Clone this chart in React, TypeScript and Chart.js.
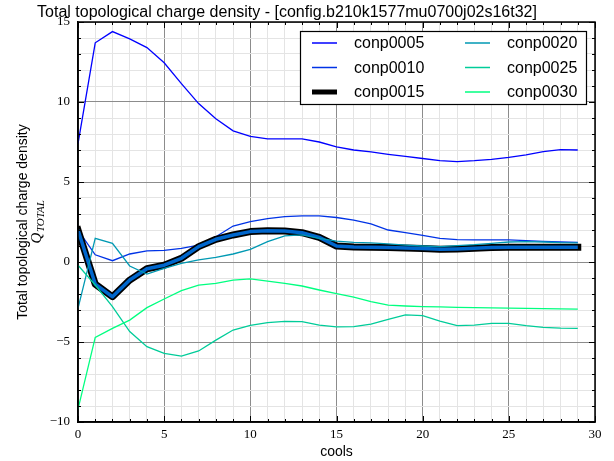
import React, { useEffect, useRef } from 'react';
import { Chart, registerables } from 'chart.js';

Chart.register(...registerables);

const cools = [0, 1, 2, 3, 4, 5, 6, 7, 8, 9, 10, 11, 12, 13, 14, 15, 16, 17, 18, 19, 20, 21, 22, 23, 24, 25, 26, 27, 28, 29];

const seriesNames = ['conp0005', 'conp0010', 'conp0015', 'conp0020', 'conp0025', 'conp0030'];

const conp0005 = [7.4, 13.7, 14.4, 13.95, 13.4, 12.45, 11.15, 9.9, 8.95, 8.2, 7.85, 7.7, 7.7, 7.7, 7.5, 7.2, 7.0, 6.88, 6.73, 6.6, 6.47, 6.34, 6.27, 6.33, 6.42, 6.54, 6.7, 6.9, 7.02, 7.0];
const conp0010 = [2.0, 0.45, 0.08, 0.5, 0.7, 0.73, 0.85, 1.06, 1.58, 2.25, 2.52, 2.71, 2.83, 2.88, 2.88, 2.78, 2.62, 2.38, 2.0, 1.83, 1.67, 1.48, 1.4, 1.38, 1.38, 1.38, 1.33, 1.29, 1.25, 1.23];
const conp0015 = [2.0, -1.38, -2.17, -1.13, -0.42, -0.2, 0.23, 0.96, 1.42, 1.69, 1.9, 1.96, 1.94, 1.83, 1.54, 1.0, 0.94, 0.92, 0.9, 0.88, 0.84, 0.8, 0.82, 0.86, 0.9, 0.92, 0.92, 0.92, 0.92, 0.92];
const conp0020 = [-2.9, 1.48, 1.17, -0.25, -0.75, -0.4, -0.08, 0.13, 0.29, 0.5, 0.79, 1.27, 1.63, 1.69, 1.48, 1.3, 1.23, 1.2, 1.13, 1.06, 1.0, 0.96, 1.02, 1.08, 1.17, 1.25, 1.27, 1.25, 1.21, 1.2];
const conp0025 = [-0.2, -1.44, -2.79, -4.35, -5.29, -5.71, -5.88, -5.56, -4.88, -4.25, -3.96, -3.79, -3.71, -3.73, -3.94, -4.06, -4.04, -3.88, -3.58, -3.31, -3.35, -3.69, -3.98, -3.94, -3.83, -3.83, -3.98, -4.08, -4.13, -4.15];
const conp0030 = [-9.2, -4.71, -4.15, -3.63, -2.85, -2.31, -1.79, -1.44, -1.33, -1.13, -1.06, -1.19, -1.33, -1.5, -1.75, -1.98, -2.2, -2.48, -2.69, -2.75, -2.79, -2.81, -2.83, -2.85, -2.87, -2.88, -2.9, -2.92, -2.93, -2.94];

const seriesColors = ['#0000ff', '#0033e6', '#0066cc', '#0099b3', '#00cc99', '#00ff80'];

const xTickValues = [0, 1, 2, 3, 4, 5, 6, 7, 8, 9, 10, 11, 12, 13, 14, 15, 16, 17, 18, 19, 20, 21, 22, 23, 24, 25, 26, 27, 28, 29, 30];
const yTickValues = [-10, -9, -8, -7, -6, -5, -4, -3, -2, -1, 0, 1, 2, 3, 4, 5, 6, 7, 8, 9, 10, 11, 12, 13, 14, 15];

const chartTitle = 'Total topological charge density - [config.b210k1577mu0700j02s16t32]';
const xTitle = 'cools';
const yTitle = 'Total topological charge density';
const yTitleSymbol = 'Q';
const yTitleSub = 'TOTAL';

const SANS = '"Liberation Sans", Arial, sans-serif';
const SERIF = '"Liberation Serif", "Times New Roman", serif';

const fmt = (v: number) => (v < 0 ? '\u2212' + Math.abs(v) : String(v));

export default function App() {
  const ref = useRef<HTMLCanvasElement>(null);

  useEffect(() => {
    const series = [conp0005, conp0010, conp0015, conp0020, conp0025, conp0030];
    const datasets: any[] = [];
    series.forEach((vals, i) => {
      const pts = cools.map((c, k) => ({ x: c, y: vals[k] }));
      if (i === 2) {
        datasets.push({
          label: seriesNames[i],
          data: pts,
          borderColor: '#000000',
          borderWidth: 7,
          pointRadius: 0,
          fill: false,
          tension: 0,
          borderJoinStyle: 'round',
          borderCapStyle: 'square',
          order: 10 - i * 1.5,
        });
        datasets.push({
          label: seriesNames[i] + '_inner',
          data: pts,
          borderColor: seriesColors[i],
          borderWidth: 3.5,
          pointRadius: 0,
          fill: false,
          tension: 0,
          borderJoinStyle: 'round',
          borderCapStyle: 'butt',
          order: 10 - i * 1.5 - 0.5,
        });
      } else {
        datasets.push({
          label: seriesNames[i],
          data: pts,
          borderColor: seriesColors[i],
          borderWidth: 1.3,
          pointRadius: 0,
          fill: false,
          tension: 0,
          order: 10 - i * 1.5,
        });
      }
    });

    const decor = {
      id: 'decor',
      afterDraw(chart: any) {
        const { ctx, chartArea: a, scales } = chart;
        const xs = scales.x;
        const ys = scales.y;
        ctx.save();
        // inward tick marks
        ctx.strokeStyle = '#000';
        ctx.lineWidth = 1;
        const seg = (x1: number, y1: number, x2: number, y2: number) => {
          ctx.beginPath();
          ctx.moveTo(x1, y1);
          ctx.lineTo(x2, y2);
          ctx.stroke();
        };
        xTickValues.forEach((v) => {
          const px = Math.round(xs.getPixelForValue(v)) + 0.5;
          const len = v % 5 === 0 ? 6 : 3;
          seg(px, a.bottom, px, a.bottom - len);
          seg(px, a.top, px, a.top + len);
        });
        yTickValues.forEach((v) => {
          const py = Math.round(ys.getPixelForValue(v)) + 0.5;
          const len = v % 5 === 0 ? 6 : 3;
          seg(a.left, py, a.left + len, py);
          seg(a.right, py, a.right - len, py);
        });
        // frame
        ctx.lineWidth = 1.5;
        ctx.strokeRect(a.left, a.top, a.right - a.left, a.bottom - a.top);

        // title
        ctx.fillStyle = '#000';
        ctx.font = '16px ' + SANS;
        ctx.textAlign = 'center';
        ctx.textBaseline = 'alphabetic';
        ctx.fillText(chartTitle, 287, 17);

        // x title
        ctx.font = '14px ' + SANS;
        ctx.fillText(xTitle, (a.left + a.right) / 2, 456);

        // y title
        const cy = (a.top + a.bottom) / 2;
        ctx.save();
        ctx.translate(0, cy);
        ctx.rotate(-Math.PI / 2);
        ctx.font = '14px ' + SANS;
        ctx.textAlign = 'center';
        ctx.textBaseline = 'middle';
        ctx.fillText(yTitle, 0, 23);
        ctx.font = 'italic 15px ' + SERIF;
        const wq = ctx.measureText(yTitleSymbol).width;
        ctx.font = 'italic 11px ' + SERIF;
        const ws = ctx.measureText(yTitleSub).width;
        const start = -(wq + ws) / 2;
        ctx.textAlign = 'left';
        ctx.textBaseline = 'alphabetic';
        ctx.font = 'italic 15px ' + SERIF;
        ctx.fillText(yTitleSymbol, start, 41);
        ctx.font = 'italic 11px ' + SERIF;
        ctx.fillText(yTitleSub, start + wq + 0.5, 44);
        ctx.restore();

        // legend
        const bx = a.right - 295;
        const by = a.top + 9;
        const bw = 286;
        const bh = 73;
        ctx.fillStyle = '#ffffff';
        ctx.fillRect(bx, by, bw, bh);
        ctx.strokeStyle = '#000';
        ctx.lineWidth = 1.2;
        ctx.strokeRect(bx + 0.5, by + 0.5, bw, bh);
        ctx.font = '16px ' + SANS;
        ctx.textAlign = 'left';
        ctx.textBaseline = 'middle';
        seriesNames.forEach((name, i) => {
          const col = Math.floor(i / 3);
          const row = i % 3;
          const lx = bx + 12 + col * 153;
          const ly = by + 12 + row * 24.5;
          ctx.strokeStyle = i === 2 ? '#000000' : seriesColors[i];
          ctx.lineWidth = i === 2 ? 5 : 1.5;
          ctx.beginPath();
          ctx.moveTo(lx, ly);
          ctx.lineTo(lx + 25, ly);
          ctx.stroke();
          ctx.fillStyle = '#000';
          ctx.fillText(name, lx + 42, ly + 1);
        });
        ctx.restore();
      },
    };

    const gridColor = (c: any) =>
      c.tick && Math.abs(c.tick.value % 5) < 1e-9 ? '#8c8c8c' : '#e4e4e4';

    const chart = new Chart(ref.current as HTMLCanvasElement, {
      type: 'line',
      data: { datasets },
      options: {
        animation: false,
        responsive: false,
        devicePixelRatio: 1,
        layout: { padding: { left: 38, top: 22, right: 19, bottom: 0 } },
        plugins: {
          legend: { display: false },
          title: { display: false },
          tooltip: { enabled: false },
        },
        scales: {
          x: {
            type: 'linear',
            min: 0,
            max: 30,
            afterBuildTicks: (s: any) => {
              s.ticks = xTickValues.map((v) => ({ value: v }));
            },
            afterFit: (s: any) => {
              s.height = 39;
            },
            ticks: {
              autoSkip: false,
              maxRotation: 0,
              padding: 5,
              color: '#000',
              font: { family: SERIF, size: 13 },
              callback: (v: any) => (Number(v) % 5 === 0 ? fmt(Number(v)) : ''),
            },
            grid: { color: gridColor, lineWidth: 1, drawTicks: false },
            border: { display: true, color: '#000', width: 1.5 },
          },
          y: {
            type: 'linear',
            min: -10,
            max: 15,
            afterBuildTicks: (s: any) => {
              s.ticks = yTickValues.map((v) => ({ value: v }));
            },
            afterFit: (s: any) => {
              s.width = 40;
            },
            ticks: {
              autoSkip: false,
              padding: 8,
              color: '#000',
              font: { family: SERIF, size: 13 },
              callback: (v: any) => (Number(v) % 5 === 0 ? fmt(Number(v)) : ''),
            },
            grid: { color: gridColor, lineWidth: 1, drawTicks: false },
            border: { display: true, color: '#000', width: 1.5 },
          },
        },
      },
      plugins: [decor],
    } as any);

    return () => chart.destroy();
  }, []);

  return (
    <div style={{ position: 'absolute', left: 0, top: 0, width: 614, height: 461, background: '#fff' }}>
      <canvas ref={ref} width={614} height={461} style={{ width: 614, height: 461, display: 'block' }} />
    </div>
  );
}
